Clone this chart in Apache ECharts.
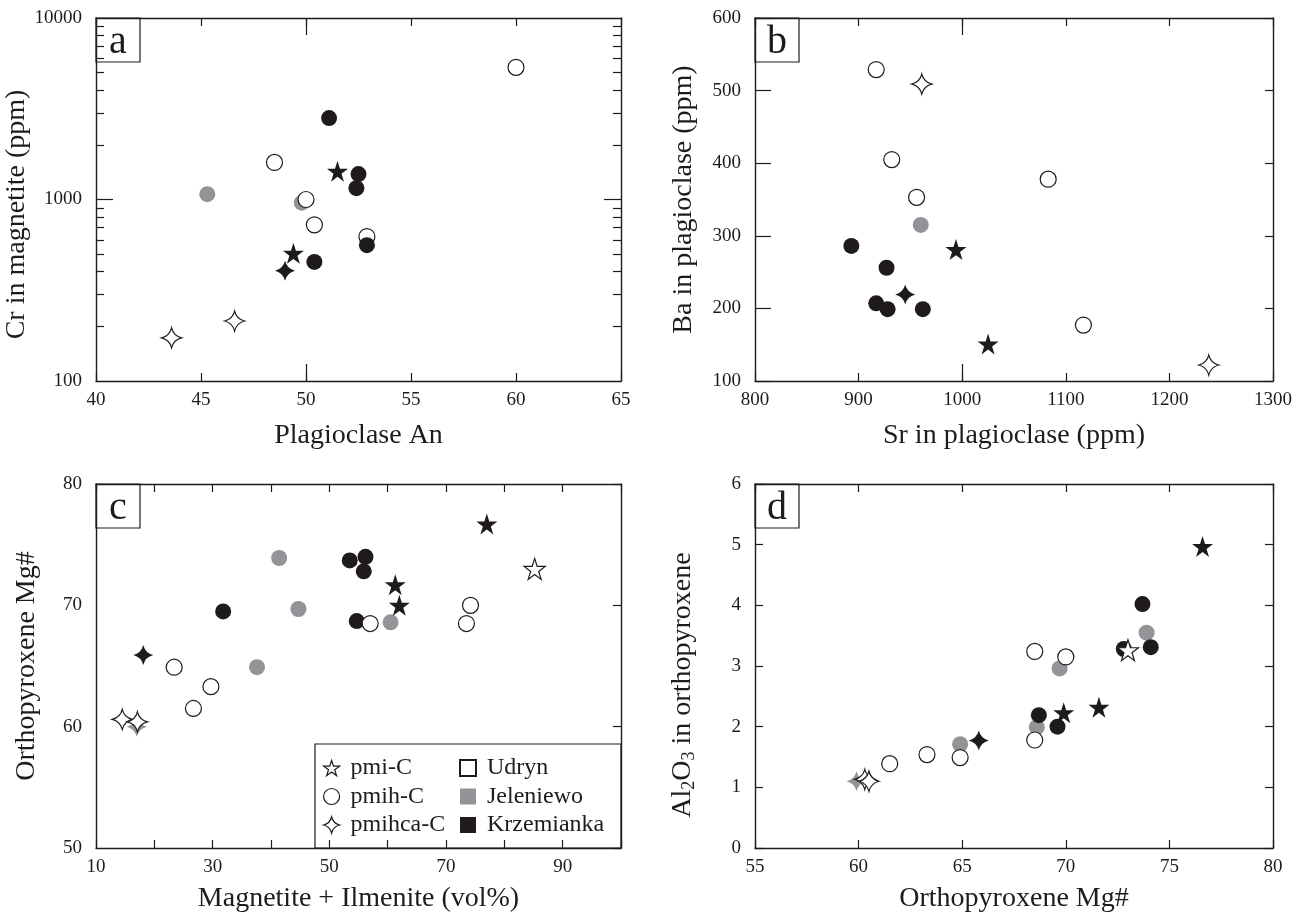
<!DOCTYPE html>
<html>
<head>
<meta charset="utf-8">
<script src="https://cdn.jsdelivr.net/npm/echarts@6/dist/echarts.min.js"></script>
<style>html,body{margin:0;padding:0;background:#fff}</style>
</head>
<body>
<div id="chart" style="width:1302px;height:916px"></div>
<script>
// rows are [x, y, site]; site U = Udryn, J = Jeleniewo, K = Krzemianka
// star5 = pmi-C, circle = pmih-C, star4 = pmihca-C

// (a) Plagioclase An vs Cr in magnetite (ppm)
var aCircle = [[45.3, 1070, 'J'], [49.8, 960, 'J'], [60.0, 5350, 'U'], [48.5, 1600, 'U'], [50.0, 1000, 'U'],
  [50.4, 725, 'U'], [52.9, 625, 'U'], [51.1, 2810, 'K'], [52.5, 1380, 'K'], [52.4, 1155, 'K'],
  [52.9, 560, 'K'], [50.4, 453, 'K']];
var aStar4 = [[49.0, 405, 'K'], [46.6, 214, 'U'], [43.6, 173, 'U']];
var aStar5 = [[51.5, 1430, 'K'], [49.4, 505, 'K']];

// (b) Sr in plagioclase vs Ba in plagioclase (ppm)
var bCircle = [[960, 315, 'J'], [917, 529, 'U'], [932, 405, 'U'], [1083, 378, 'U'], [956, 353, 'U'],
  [1117, 177, 'U'], [893, 286, 'K'], [927, 256, 'K'], [917, 207, 'K'], [928, 199, 'K'], [962, 199, 'K']];
var bStar4 = [[961, 509, 'U'], [945, 219, 'K'], [1238, 122, 'U']];
var bStar5 = [[994, 281, 'K'], [1025, 151, 'K']];

// (c) Magnetite + Ilmenite (vol%) vs orthopyroxene Mg#
var cCircle = [[41.4, 73.9, 'J'], [44.7, 69.7, 'J'], [60.5, 68.6, 'J'], [37.6, 64.9, 'J'],
  [53.5, 73.7, 'K'], [56.2, 74.0, 'K'], [55.9, 72.8, 'K'], [31.8, 69.5, 'K'], [54.7, 68.7, 'K'],
  [74.2, 70.0, 'U'], [57.0, 68.5, 'U'], [73.5, 68.5, 'U'], [23.4, 64.9, 'U'], [29.7, 63.3, 'U'], [26.7, 61.5, 'U']];
var cStar4 = [[18.1, 65.9, 'K'], [17.0, 60.0, 'J'], [14.5, 60.6, 'U'], [17.1, 60.4, 'U']];
var cStar5 = [[77.0, 76.7, 'K'], [85.2, 73.0, 'U'], [61.3, 71.7, 'K'], [62.0, 70.0, 'K']];

// (d) orthopyroxene Mg# vs Al2O3 in orthopyroxene
var dCircle = [[73.9, 3.55, 'J'], [69.7, 2.96, 'J'], [68.6, 1.99, 'J'], [64.9, 1.71, 'J'],
  [68.5, 3.24, 'U'], [70.0, 3.15, 'U'], [68.5, 1.78, 'U'], [64.9, 1.49, 'U'], [63.3, 1.54, 'U'], [61.5, 1.39, 'U'],
  [73.7, 4.02, 'K'], [72.8, 3.28, 'K'], [74.1, 3.31, 'K'], [68.7, 2.19, 'K'], [69.6, 2.00, 'K']];
var dStar4 = [[65.8, 1.77, 'K'], [59.9, 1.10, 'J'], [60.3, 1.13, 'U'], [60.5, 1.10, 'U']];
var dStar5 = [[76.6, 4.97, 'K'], [73.0, 3.26, 'U'], [71.6, 2.32, 'K'], [69.9, 2.23, 'K']];

var crMinorTicks = [200, 300, 400, 500, 600, 700, 800, 900, 2000, 3000, 4000, 5000, 6000, 7000, 8000, 9000];
var crLabels = [100, 1000, 10000];

var INK = '#1f1b1c';
var GRAY = '#929497';
var FONT = 'Liberation Serif';

var STAR5 = 'path://M50 0L61.23 34.55L97.55 34.55L68.17 55.9L79.39 90.45L50 69.1L20.61 90.45L31.83 55.9L2.45 34.55L38.77 34.55Z';
var STAR4 = 'path://M50 0Q60 40 100 50Q60 60 50 100Q40 60 0 50Q40 40 50 0Z';

var SITE = {
  U: { color: '#fff', borderColor: INK, borderWidth: 1.2, opacity: 1 },
  J: { color: GRAY, borderColor: GRAY, borderWidth: 0, opacity: 1 },
  K: { color: INK, borderColor: INK, borderWidth: 0, opacity: 1 }
};

function plain(v) { return String(v); }

function points(rows) {
  return rows.map(function (r) {
    return { value: [r[0], r[1]], itemStyle: SITE[r[2]] };
  });
}

function panelSeries(g, circles, star4, star5) {
  var common = { type: 'scatter', xAxisIndex: 2 * g, yAxisIndex: 2 * g,
    itemStyle: { color: '#fff', borderColor: INK, borderWidth: 1.2, opacity: 1 } };
  return [
    Object.assign({ name: 'pmih-C', symbol: 'circle', symbolSize: 16, data: points(circles) }, common),
    Object.assign({ name: 'pmihca-C', symbol: STAR4, symbolSize: 20, data: points(star4) }, common),
    Object.assign({ name: 'pmi-C', symbol: STAR5, symbolSize: 21, data: points(star5) }, common)
  ];
}

function tick(len, show) {
  return { show: show !== false, inside: true, length: len, lineStyle: { color: INK, width: 1.2 } };
}
var line = { show: true, onZero: false, lineStyle: { color: INK, width: 1.4 } };
var tickFont = { fontFamily: FONT, fontSize: 19, color: INK };

function frameX(g, o) {
  var bottom = {
    gridIndex: g, type: 'value', position: 'bottom', min: o.min, max: o.max, interval: o.interval,
    axisLine: line, splitLine: { show: false }, axisTick: tick(8),
    name: o.name, nameLocation: 'middle', nameGap: o.nameGap,
    nameTextStyle: { fontFamily: FONT, fontSize: 28, color: INK },
    axisLabel: Object.assign({ margin: 10, formatter: o.formatter || plain }, tickFont)
  };
  var top = {
    gridIndex: g, type: 'value', position: 'top', min: o.min, max: o.max, interval: o.interval,
    axisLine: line, splitLine: { show: false }, axisTick: tick(8), axisLabel: { show: false }
  };
  return [bottom, top];
}

function frameY(g, o) {
  var left = {
    gridIndex: g, type: o.type || 'value', position: 'left', min: o.min, max: o.max,
    axisLine: line, splitLine: { show: false },
    axisTick: Object.assign(tick(o.leftTick || 8, o.leftTickShow), o.tickValues ? { customValues: o.tickValues } : {}),
    name: o.name, nameLocation: 'middle', nameGap: o.nameGap,
    nameTextStyle: o.nameStyle,
    axisLabel: Object.assign({ margin: 14, formatter: plain }, tickFont,
      o.labelValues ? { customValues: o.labelValues } : {})
  };
  var right = {
    gridIndex: g, type: o.type || 'value', position: 'right', min: o.min, max: o.max,
    axisLine: line, splitLine: { show: false },
    axisTick: Object.assign(tick(8), o.tickValues ? { customValues: o.tickValues } : {}),
    axisLabel: { show: false }
  };
  if (o.interval) { left.interval = o.interval; right.interval = o.interval; }
  if (o.type === 'log') { left.logBase = 10; right.logBase = 10; }
  return [left, right];
}

// axes carrying only the longer tick marks, laid over panels a and b
function longTickAxis(g, pos, type, min, max, vals) {
  var ax = {
    gridIndex: g, type: type, position: pos, min: min, max: max,
    axisLine: { show: false }, axisLabel: { show: false }, splitLine: { show: false },
    axisTick: Object.assign(tick(17), { customValues: vals })
  };
  if (type === 'log') ax.logBase = 10;
  return ax;
}

var titleStyle = { fontFamily: FONT, fontSize: 28, color: INK };

var grids = [
  { left: 96, top: 18, width: 525, height: 363 },
  { left: 755, top: 18, width: 518, height: 363 },
  { left: 96, top: 484, width: 525, height: 364 },
  { left: 755, top: 484, width: 518, height: 364 },
  { left: 96, top: 18, width: 525, height: 363 },
  { left: 755, top: 18, width: 518, height: 363 }
].map(function (gr) { return Object.assign({ outerBoundsMode: 'none', containLabel: false }, gr); });

var xAxes = [].concat(
  frameX(0, { min: 40, max: 65, interval: 5, name: 'Plagioclase An', nameGap: 41 }),
  frameX(1, { min: 800, max: 1300, interval: 100, name: 'Sr in plagioclase (ppm)', nameGap: 41 }),
  frameX(2, { min: 10, max: 100, interval: 10, name: 'Magnetite + Ilmenite (vol%)', nameGap: 37,
    formatter: function (v) { return v % 20 === 10 ? String(v) : ''; } }),
  frameX(3, { min: 55, max: 80, interval: 5, name: 'Orthopyroxene Mg#', nameGap: 37 }),
  [longTickAxis(4, 'bottom', 'value', 40, 65, [50]), longTickAxis(4, 'top', 'value', 40, 65, [50]),
   longTickAxis(5, 'bottom', 'value', 800, 1300, [1000]), longTickAxis(5, 'top', 'value', 800, 1300, [1000])]
);

var yAxes = [].concat(
  frameY(0, { type: 'log', min: 100, max: 10000, tickValues: crMinorTicks, labelValues: crLabels,
    name: 'Cr in magnetite (ppm)', nameGap: 57,
    nameStyle: Object.assign({ padding: [0, 30, 0, 0] }, titleStyle) }),
  frameY(1, { min: 100, max: 600, interval: 100, leftTick: 16,
    name: 'Ba in plagioclase (ppm)', nameGap: 57, nameStyle: titleStyle }),
  frameY(2, { min: 50, max: 80, interval: 10, leftTickShow: false,
    name: 'Orthopyroxene Mg#', nameGap: 55, nameStyle: titleStyle }),
  frameY(3, { min: 0, max: 6, interval: 1,
    name: 'Al{s|2}O{s|3} in orthopyroxene', nameGap: 57,
    nameStyle: Object.assign({ padding: [0, 38, 0, 0], lineHeight: 30,
      rich: { s: { fontFamily: FONT, fontSize: 18, color: INK, verticalAlign: 'bottom', lineHeight: 18 } } }, titleStyle) }),
  [longTickAxis(4, 'left', 'log', 100, 10000, [1000]), longTickAxis(4, 'right', 'log', 100, 10000, [1000]),
   { gridIndex: 5, type: 'value', min: 0, max: 1, show: false }]
);

var series = [].concat(
  panelSeries(0, aCircle, aStar4, aStar5),
  panelSeries(1, bCircle, bStar4, bStar5),
  panelSeries(2, cCircle, cStar4, cStar5),
  panelSeries(3, dCircle, dStar4, dStar5),
  // locations, shown in the legend only
  [
    { name: 'Udryn', type: 'scatter', xAxisIndex: 4, yAxisIndex: 4, data: [], symbol: 'rect', itemStyle: SITE.U },
    { name: 'Jeleniewo', type: 'scatter', xAxisIndex: 4, yAxisIndex: 4, data: [], symbol: 'rect', itemStyle: SITE.J },
    { name: 'Krzemianka', type: 'scatter', xAxisIndex: 4, yAxisIndex: 4, data: [], symbol: 'rect', itemStyle: SITE.K }
  ]
);

var legendText = { fontFamily: FONT, fontSize: 24, color: INK, padding: [0, 0, 0, 6] };

function letterBox(ch, x, y) {
  return {
    type: 'group', x: x, y: y, z: 10,
    children: [
      { type: 'rect', shape: { x: 0, y: 0, width: 44, height: 44 }, style: { fill: '#fff', stroke: INK, lineWidth: 1.2 } },
      { type: 'text', x: 22, y: 24, style: { text: ch, fontFamily: FONT, fontSize: 40, fill: INK,
        align: 'center', verticalAlign: 'middle', textAlign: 'center', textVerticalAlign: 'middle' } }
    ]
  };
}

var chart = echarts.init(document.getElementById('chart'), null, { renderer: 'canvas' });
chart.setOption({
  backgroundColor: '#fff',
  animation: false,
  grid: grids,
  xAxis: xAxes,
  yAxis: yAxes,
  series: series,
  legend: [
    {
      orient: 'vertical', left: 323, top: 756, padding: 0, itemGap: 4.5,
      itemWidth: 16, itemHeight: 16, selectedMode: false,
      itemStyle: { borderWidth: 1.2, opacity: 1 },
      textStyle: legendText,
      data: [{ name: 'pmi-C', icon: STAR5 }, { name: 'pmih-C', icon: 'circle' }, { name: 'pmihca-C', icon: STAR4 }]
    },
    {
      orient: 'vertical', left: 459, top: 756, padding: 0, itemGap: 4.5,
      itemWidth: 16, itemHeight: 16, selectedMode: false,
      itemStyle: { opacity: 1 },
      textStyle: legendText,
      data: [{ name: 'Udryn', icon: 'rect' }, { name: 'Jeleniewo', icon: 'rect' }, { name: 'Krzemianka', icon: 'rect' }]
    }
  ],
  graphic: [
    { type: 'rect', z: 3, shape: { x: 315, y: 744, width: 306, height: 104 },
      style: { fill: null, stroke: INK, lineWidth: 1.2 } },
    letterBox('a', 96, 18),
    letterBox('b', 755, 18),
    letterBox('c', 96, 484),
    letterBox('d', 755, 484)
  ]
});
</script>
</body>
</html>
